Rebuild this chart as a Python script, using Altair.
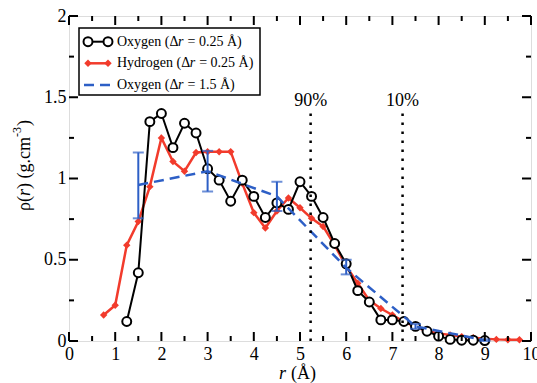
import altair as alt
import pandas as pd

# ---- data -------------------------------------------------------------
# Oxygen density profile, bin width 0.25 Å
r_oxy = [1.25, 1.5, 1.75, 2.0, 2.25, 2.5, 2.75, 3.0, 3.25, 3.5, 3.75, 4.0,
         4.25, 4.5, 4.75, 5.0, 5.25, 5.5, 5.75, 6.0, 6.25, 6.5, 6.75, 7.0,
         7.25, 7.5, 7.75, 8.0, 8.25, 8.5, 8.75, 9.0]
rho_oxy = [0.12, 0.42, 1.35, 1.40, 1.19, 1.34, 1.28, 1.06, 0.99, 0.86, 0.99, 0.89,
           0.76, 0.85, 0.81, 0.98, 0.89, 0.76, 0.60, 0.475, 0.31, 0.24, 0.13, 0.13,
           0.12, 0.09, 0.06, 0.03, 0.01, 0.005, 0.005, 0.003]

# Hydrogen density profile, bin width 0.25 Å
r_hyd = [0.75, 1.0, 1.25, 1.5, 1.75, 2.0, 2.25, 2.5, 2.75, 3.0, 3.25, 3.5,
         3.75, 4.0, 4.25, 4.5, 4.75, 5.0, 5.25, 5.5, 5.75, 6.0, 6.25, 6.5,
         6.75, 7.0, 7.25, 7.5, 7.75, 8.0, 8.25, 8.5, 8.75, 9.0, 9.25, 9.5, 9.75]
rho_hyd = [0.16, 0.22, 0.59, 0.735, 0.95, 1.25, 1.105, 1.045, 1.16, 1.165, 1.165, 1.165,
           0.97, 0.79, 0.695, 0.80, 0.88, 0.82, 0.755, 0.705, 0.59, 0.46, 0.355, 0.25,
           0.20, 0.16, 0.12, 0.085, 0.062, 0.047, 0.037, 0.027, 0.02, 0.014, 0.01, 0.008, 0.008]

# Oxygen density profile, bin width 1.5 Å, with error bars
r_coarse = [1.5, 3.0, 4.5, 6.0, 7.5, 9.0]
rho_coarse = [0.96, 1.045, 0.89, 0.45, 0.09, 0.005]
rho_coarse_lo = [0.755, 0.92, 0.80, 0.41, 0.075, 0.0]
rho_coarse_hi = [1.16, 1.17, 0.98, 0.50, 0.105, 0.01]

# radii enclosing 90 % and 10 % of the density
marker_r = [5.23, 7.22]
marker_label = ["90%", "10%"]
marker_top = 1.405
marker_label_y = 1.48

# axis ticks
x_major = list(range(0, 11))
x_minor = [i + 0.5 for i in range(0, 10)]
y_major = [0, 0.5, 1.0, 1.5, 2.0]
y_minor = [0.25, 0.75, 1.25, 1.75]

# ---- styling ----------------------------------------------------------
FONT = "Liberation Serif"
BLACK = "#000000"
RED = "#f23b2c"
BLUE = "#2d5fc6"
NBSP = "\u00a0"
W, H = 462, 325

xs = alt.Scale(domain=[0, 10], nice=False, zero=False)
ys = alt.Scale(domain=[0, 2], nice=False, zero=False)

oxy = pd.DataFrame({"r": r_oxy, "rho": rho_oxy})
hyd = pd.DataFrame({"r": r_hyd, "rho": rho_hyd})
coarse = pd.DataFrame({"r": r_coarse, "rho": rho_coarse,
                       "lo": rho_coarse_lo, "hi": rho_coarse_hi})
markers = pd.DataFrame({"r": marker_r, "label": marker_label,
                        "base": [0.0] * 2, "top": [marker_top] * 2,
                        "ly": [marker_label_y] * 2})
one = pd.DataFrame({"k": [0]})

X = alt.X("r:Q", scale=xs,
          axis=alt.Axis(values=x_major, format="d", title=None, ticks=False,
                        domain=False, grid=False, labelFont=FONT, labelFontSize=18,
                        labelColor="black", labelPadding=4, labelOverlap=False,
                        labelFlush=False, labelBound=False))
Y = alt.Y("rho:Q", scale=ys,
          axis=alt.Axis(values=y_major, format="~g", title=None, ticks=False,
                        domain=False, grid=False, labelFont=FONT, labelFontSize=18,
                        labelColor="black", labelPadding=3, labelOverlap=False,
                        labelFlush=False, labelBound=False))

# ---- data layers ------------------------------------------------------
hyd_line = alt.Chart(hyd).mark_line(color=RED, strokeWidth=2.5).encode(x=X, y=Y)
hyd_pts = alt.Chart(hyd).mark_point(shape="diamond", filled=True, color=RED,
                                    size=55, opacity=1).encode(x="r:Q", y="rho:Q")

oxy_line = alt.Chart(oxy).mark_line(color=BLACK, strokeWidth=2).encode(x="r:Q", y="rho:Q")
oxy_pts = alt.Chart(oxy).mark_point(shape="circle", filled=False, fill="white",
                                    fillOpacity=1, stroke=BLACK, strokeWidth=2,
                                    size=80, opacity=1).encode(x="r:Q", y="rho:Q")

coarse_line = alt.Chart(coarse).mark_line(color=BLUE, strokeWidth=2.5,
                                          strokeDash=[10, 6]).encode(x="r:Q", y="rho:Q")
err_bar = alt.Chart(coarse).mark_rule(color=BLUE, strokeWidth=2).encode(
    x="r:Q", y=alt.Y("lo:Q"), y2="hi:Q")
err_cap_hi = alt.Chart(coarse).mark_tick(color=BLUE, orient="horizontal", size=11,
                                         thickness=2).encode(x="r:Q", y="hi:Q")
err_cap_lo = alt.Chart(coarse).mark_tick(color=BLUE, orient="horizontal", size=11,
                                         thickness=2).encode(x="r:Q", y="lo:Q")

marker_lines = alt.Chart(markers).mark_rule(color=BLACK, strokeWidth=2.5,
                                            strokeDash=[2.5, 6.5]).encode(
    x="r:Q", y=alt.Y("base:Q"), y2="top:Q")
marker_text = alt.Chart(markers).mark_text(font=FONT, fontSize=18, color=BLACK,
                                           baseline="middle", align="center").encode(
    x="r:Q", y="ly:Q", text="label:N")

# ---- inward ticks on all four sides -------------------------------------
tick_layers = []
for vals, ln in [(x_major, 9), (x_minor, 5)]:
    d = pd.DataFrame({"r": vals})
    tick_layers.append(alt.Chart(d).mark_rule(color=BLACK, strokeWidth=2).encode(
        x="r:Q", y=alt.value(H), y2=alt.value(H - ln)))
    tick_layers.append(alt.Chart(d).mark_rule(color=BLACK, strokeWidth=2).encode(
        x="r:Q", y=alt.value(0), y2=alt.value(ln)))
for vals, ln in [(y_major, 9), (y_minor, 5)]:
    d = pd.DataFrame({"rho": vals})
    tick_layers.append(alt.Chart(d).mark_rule(color=BLACK, strokeWidth=2).encode(
        y="rho:Q", x=alt.value(0), x2=alt.value(ln)))
    tick_layers.append(alt.Chart(d).mark_rule(color=BLACK, strokeWidth=2).encode(
        y="rho:Q", x=alt.value(W), x2=alt.value(W - ln)))

# ---- axis titles (mixed upright / italic text) --------------------------
def txt(s, x, y, size=18, italic=False, angle=0, dx=0, dy=0, align="left",
        baseline="alphabetic"):
    kw = dict(text=s, font=FONT, fontSize=size, color=BLACK, align=align,
              baseline=baseline, dx=dx, dy=dy)
    if italic:
        kw["fontStyle"] = "italic"
    if angle:
        kw["angle"] = angle
    return alt.Chart(one).mark_text(**kw).encode(x=alt.value(x), y=alt.value(y))

# offsets relative to the plot area origin
OX, OY = 69, 16
titles = [
    txt("r", 279 - OX, 379 - OY, italic=True),
    txt("(Å)", 291 - OX, 379 - OY),
    txt("ρ(", 25 - OX, 211 - OY, angle=270, baseline="middle", dx=0),
    txt("r", 25 - OX, 211 - OY, angle=270, baseline="middle", dx=15, italic=True),
    txt(")" + NBSP + "(g.cm", 25 - OX, 211 - OY, angle=270, baseline="middle", dx=22),
    txt("-3", 25 - OX, 211 - OY, size=12, angle=270, baseline="middle", dx=74, dy=-8),
    txt(")", 25 - OX, 211 - OY, angle=270, baseline="middle", dx=85),
]

# ---- legend -------------------------------------------------------------
LX0, LX1, LY0, LY1 = 79 - OX, 260 - OX, 28 - OY, 95 - OY
rows = [41.7 - OY, 63.3 - OY, 85 - OY]
sx0, sx1 = 88 - OX, 108 - OX
tx = 117 - OX

legend_box = alt.Chart(one).mark_rect(fill="white", stroke=BLACK, strokeWidth=1.5).encode(
    x=alt.value(LX0), x2=alt.value(LX1), y=alt.value(LY0), y2=alt.value(LY1))

def sym(px, row, **mk):
    return alt.Chart(one).mark_point(opacity=1, **mk).encode(
        x=alt.value(px), y=alt.value(row))

circ = dict(shape="circle", filled=False, fill="white", fillOpacity=1,
            stroke=BLACK, strokeWidth=2, size=80)
diam = dict(shape="diamond", filled=True, color=RED, size=55)

legend = [
    legend_box,
    alt.Chart(one).mark_rule(color=BLACK, strokeWidth=2).encode(
        x=alt.value(sx0), x2=alt.value(sx1), y=alt.value(rows[0])),
    sym(sx0, rows[0], **circ), sym(sx1, rows[0], **circ),
    alt.Chart(one).mark_rule(color=RED, strokeWidth=2.5).encode(
        x=alt.value(sx0), x2=alt.value(sx1), y=alt.value(rows[1])),
    sym(sx0, rows[1], **diam), sym(sx1, rows[1], **diam),
    alt.Chart(one).mark_rule(color=BLUE, strokeWidth=2.5, strokeDash=[10, 6]).encode(
        x=alt.value(84 - OX), x2=alt.value(112 - OX), y=alt.value(rows[2])),
]
for row, name, wname, rest in [(rows[0], "Oxygen (Δ", 61.0, "= 0.25 Å)"),
                               (rows[1], "Hydrogen (Δ", 72.7, "= 0.25 Å)"),
                               (rows[2], "Oxygen (Δ", 61.0, "= 1.5 Å)")]:
    legend.append(txt(name, tx, row, size=14, baseline="middle"))
    legend.append(txt("r", tx + wname, row, size=14, baseline="middle", italic=True))
    legend.append(txt(rest, tx + wname + 9.5, row, size=14, baseline="middle"))

chart = alt.layer(
    hyd_line, hyd_pts, oxy_line, oxy_pts,
    coarse_line, err_bar, err_cap_hi, err_cap_lo,
    marker_lines, marker_text,
    *tick_layers, *titles, *legend,
).properties(
    width=W, height=H,
    autosize=alt.AutoSizeParams(type="none"),
    padding={"left": OX, "top": OY, "right": 537 - OX - W, "bottom": 383 - OY - H},
).configure_view(
    stroke=BLACK, strokeWidth=2,
).configure(background="white")

chart.save("out.html", embed_options={"renderer": "svg", "actions": False})
